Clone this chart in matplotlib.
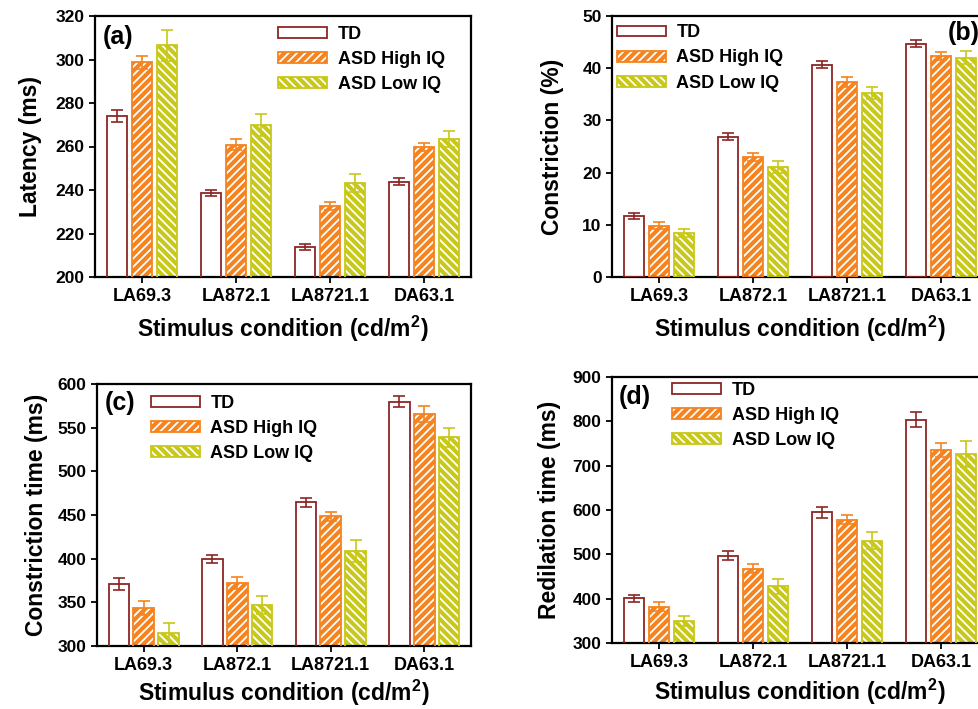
import numpy as np
import matplotlib.pyplot as plt
from matplotlib.patches import Patch

conditions = ['LA69.3', 'LA872.1', 'LA8721.1', 'DA63.1']
groups = ['TD', 'ASD High IQ', 'ASD Low IQ']

# (a) latency, ms
latency = {
    'TD': [274.0, 238.8, 214.0, 243.8],
    'ASD High IQ': [298.7, 260.8, 232.6, 259.8],
    'ASD Low IQ': [306.5, 269.9, 243.4, 263.3],
}
latency_err = {
    'TD': [2.6, 1.4, 1.4, 1.5],
    'ASD High IQ': [3.0, 2.5, 2.0, 1.8],
    'ASD Low IQ': [7.0, 5.0, 4.1, 3.7],
}

# (b) constriction, %
constriction = {
    'TD': [11.7, 26.9, 40.7, 44.7],
    'ASD High IQ': [9.8, 23.0, 37.4, 42.3],
    'ASD Low IQ': [8.4, 21.1, 35.2, 42.0],
}
constriction_err = {
    'TD': [0.6, 0.6, 0.65, 0.65],
    'ASD High IQ': [0.65, 0.85, 0.95, 0.75],
    'ASD Low IQ': [0.8, 1.15, 1.15, 1.25],
}

# (c) constriction time, ms
constriction_time = {
    'TD': [371, 399.6, 464.5, 579.8],
    'ASD High IQ': [343.5, 371.8, 448.5, 565.7],
    'ASD Low IQ': [314.5, 346.6, 408.8, 539],
}
constriction_time_err = {
    'TD': [7, 5, 5, 6],
    'ASD High IQ': [7.7, 6.8, 5.3, 8.8],
    'ASD Low IQ': [12, 10.3, 12.2, 11],
}

# (d) redilation time, ms
redilation_time = {
    'TD': [401, 497, 595, 804],
    'ASD High IQ': [382, 468, 578, 736],
    'ASD Low IQ': [349, 428, 531, 726],
}
redilation_time_err = {
    'TD': [8, 10.5, 12, 17],
    'ASD High IQ': [10.5, 11, 10, 16],
    'ASD Low IQ': [11, 17, 20, 30],
}

edge_colors = {'TD': '#8c2525', 'ASD High IQ': '#f5831f', 'ASD Low IQ': '#c8c81a'}
face_colors = {'TD': 'white', 'ASD High IQ': '#f5831f', 'ASD Low IQ': '#c8c81a'}
hatches = {'TD': None, 'ASD High IQ': '////', 'ASD Low IQ': '\\\\\\\\'}

plt.rcParams['font.family'] = 'Liberation Sans'
plt.rcParams['font.weight'] = 'bold'
plt.rcParams['axes.labelweight'] = 'bold'
plt.rcParams['mathtext.fontset'] = 'custom'
plt.rcParams['mathtext.rm'] = 'Liberation Sans:bold'
plt.rcParams['mathtext.bf'] = 'Liberation Sans:bold'
plt.rcParams['mathtext.default'] = 'bf'
plt.rcParams['hatch.linewidth'] = 1.3

W, H = 979, 709
fig = plt.figure(figsize=(W / 100, H / 100), dpi=100)


def px_axes(left, right, top, bottom):
    return fig.add_axes([left / W, 1 - bottom / H, (right - left) / W, (bottom - top) / H])


def panel(ax, data, err, ylim, yticks, ylabel, ypad, xpad, tag, tag_xy, leg_xy):
    x = np.arange(len(conditions))
    width = 0.22
    offsets = [-0.265, 0, 0.265]
    handles = []
    for g, off in zip(groups, offsets):
        xs = x + off
        if hatches[g]:
            ax.bar(xs, data[g], width, bottom=0, color=face_colors[g],
                   edgecolor='white', hatch=hatches[g], linewidth=0, zorder=2)
        ax.bar(xs, data[g], width, fill=False, edgecolor=edge_colors[g],
               linewidth=1.3, zorder=3)
        ax.errorbar(xs, data[g], yerr=err[g], fmt='none', ecolor=edge_colors[g],
                    elinewidth=1.2, capsize=4.5, capthick=1.2, zorder=4)
        if hatches[g]:
            h = (Patch(facecolor=face_colors[g], edgecolor='white', hatch=hatches[g], linewidth=0),
                 Patch(fill=False, edgecolor=edge_colors[g], linewidth=1.3))
        else:
            h = Patch(facecolor='white', edgecolor=edge_colors[g], linewidth=1.3)
        handles.append(h)

    ax.set_xlim(-0.5, 3.5)
    ax.set_ylim(*ylim)
    ax.set_yticks(yticks)
    ax.set_xticks(x)
    ax.set_xticklabels(conditions, fontsize=13)
    ax.tick_params(axis='y', labelsize=12.5, direction='out', length=4, width=1.3)
    ax.tick_params(axis='x', direction='out', length=4, width=1.3, pad=4)
    for s in ax.spines.values():
        s.set_linewidth(1.6)
    ax.set_ylabel(ylabel, fontsize=16.5, fontweight='bold', labelpad=ypad)
    ax.set_xlabel('Stimulus condition (cd/m$^{2}$)', fontsize=16.5,
                  fontweight='bold', labelpad=xpad)
    ax.text(tag_xy[0], tag_xy[1], tag, transform=ax.transAxes, fontsize=18,
            fontweight='bold', va='center', ha='left')
    ax.legend(handles, groups, loc='upper left', bbox_to_anchor=leg_xy,
              frameon=False, fontsize=13, handlelength=2.7, handleheight=0.55,
              handletextpad=0.6, labelspacing=0.45, borderpad=0, borderaxespad=0)


ax_a = px_axes(95, 471, 16, 277)
panel(ax_a, latency, latency_err, (200, 320), np.arange(200, 321, 20),
      'Latency (ms)', 10, 6, '(a)', (0.021, 0.92), (0.487, 0.962))

ax_b = px_axes(612, 988, 16, 277)
panel(ax_b, constriction, constriction_err, (0, 50), np.arange(0, 51, 10),
      'Constriction (%)', 13, 6, '(b)', (0.894, 0.935), (0.013, 0.968))

ax_c = px_axes(97, 471, 384, 646)
panel(ax_c, constriction_time, constriction_time_err, (300, 600), np.arange(300, 601, 50),
      'Constriction time (ms)', 7, 2.5, '(c)', (0.021, 0.927), (0.144, 0.958))

ax_d = px_axes(612, 988, 377, 643)
panel(ax_d, redilation_time, redilation_time_err, (300, 900), np.arange(300, 901, 100),
      'Redilation time (ms)', 8, 4, '(d)', (0.019, 0.925), (0.16, 0.982))

fig.savefig('out.png', dpi=100)
